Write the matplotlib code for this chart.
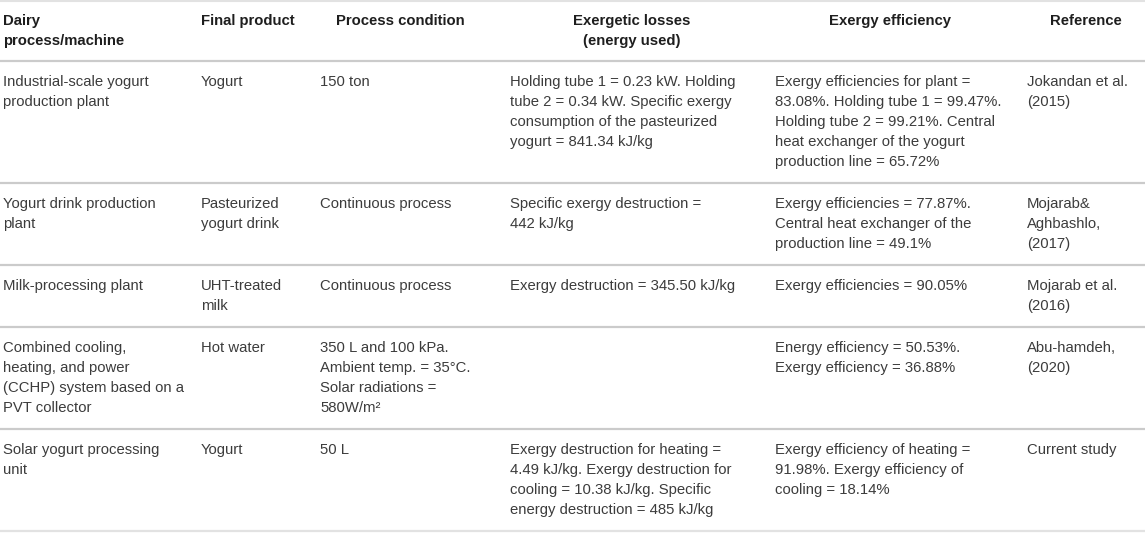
import matplotlib
matplotlib.use("Agg")
import matplotlib.pyplot as plt

# ---- table content (pre-wrapped as in the source table) ----
HEADERS = [
    "Dairy\nprocess/machine",
    "Final product",
    "Process condition",
    "Exergetic losses\n(energy used)",
    "Exergy efficiency",
    "Reference",
]

COL_PROCESS = [
    "Industrial-scale yogurt\nproduction plant",
    "Yogurt drink production\nplant",
    "Milk-processing plant",
    "Combined cooling,\nheating, and power\n(CCHP) system based on a\nPVT collector",
    "Solar yogurt processing\nunit",
]
COL_PRODUCT = [
    "Yogurt",
    "Pasteurized\nyogurt drink",
    "UHT-treated\nmilk",
    "Hot water",
    "Yogurt",
]
COL_CONDITION = [
    "150 ton",
    "Continuous process",
    "Continuous process",
    "350 L and 100 kPa.\nAmbient temp. = 35°C.\nSolar radiations =\n580W/m²",
    "50 L",
]
COL_LOSSES = [
    "Holding tube 1 = 0.23 kW. Holding\ntube 2 = 0.34 kW. Specific exergy\n"
    "consumption of the pasteurized\nyogurt = 841.34 kJ/kg",
    "Specific exergy destruction =\n442 kJ/kg",
    "Exergy destruction = 345.50 kJ/kg",
    "",
    "Exergy destruction for heating =\n4.49 kJ/kg. Exergy destruction for\n"
    "cooling = 10.38 kJ/kg. Specific\nenergy destruction = 485 kJ/kg",
]
COL_EFFICIENCY = [
    "Exergy efficiencies for plant =\n83.08%. Holding tube 1 = 99.47%.\n"
    "Holding tube 2 = 99.21%. Central\nheat exchanger of the yogurt\n"
    "production line = 65.72%",
    "Exergy efficiencies = 77.87%.\nCentral heat exchanger of the\n"
    "production line = 49.1%",
    "Exergy efficiencies = 90.05%",
    "Energy efficiency = 50.53%.\nExergy efficiency = 36.88%",
    "Exergy efficiency of heating =\n91.98%. Exergy efficiency of\ncooling = 18.14%",
]
COL_REFERENCE = [
    "Jokandan et al.\n(2015)",
    "Mojarab&\nAghbashlo,\n(2017)",
    "Mojarab et al.\n(2016)",
    "Abu-hamdeh,\n(2020)",
    "Current study",
]

COLUMNS = [COL_PROCESS, COL_PRODUCT, COL_CONDITION,
           COL_LOSSES, COL_EFFICIENCY, COL_REFERENCE]

# ---- layout (pixels) ----
W, H = 1145, 533
COL_X = [3, 201, 320, 510, 775, 1027]
HEAD_X = [3, 201, 400, 632, 890, 1086]
HEAD_HA = ["left", "left", "center", "center", "center", "center"]
LINE_H = 20
PAD = 22
FS = 10.7
TEXT_C = "#3c3c3c"
HEAD_C = "#1e1e1e"
RULE_C = "#cbcbcb"

plt.rcParams["font.family"] = ["Liberation Sans", "DejaVu Sans"]

fig = plt.figure(figsize=(W / 100, H / 100), dpi=100)
ax = fig.add_axes([0, 0, 1, 1])
ax.set_xlim(0, W)
ax.set_ylim(H, 0)
ax.axis("off")


def draw_cell(x, top, text, ha="left", **kw):
    for i, line in enumerate(text.split("\n")):
        ax.text(x, top + 21 + i * LINE_H, line, ha=ha, va="center",
                fontsize=FS, **kw)


# top rule
ax.axhline(1, color="#e2e2e2", linewidth=1.5)

# header
n_head = max(h.count("\n") + 1 for h in HEADERS)
for x, ha, h in zip(HEAD_X, HEAD_HA, HEADERS):
    draw_cell(x, 0, h, ha=ha, color=HEAD_C, fontweight="bold")
y = n_head * LINE_H + PAD - 1
ax.axhline(y, color=RULE_C, linewidth=1.6)

# body rows
n_rows = len(COL_PROCESS)
for r in range(n_rows):
    cells = [col[r] for col in COLUMNS]
    n_lines = max(c.count("\n") + 1 for c in cells)
    for x, c in zip(COL_X, cells):
        if c:
            draw_cell(x, y, c, color=TEXT_C)
    y += n_lines * LINE_H + PAD
    ax.axhline(y, color=RULE_C if r < n_rows - 1 else "#e2e2e2", linewidth=1.6)

fig.savefig("out.png", dpi=100)
